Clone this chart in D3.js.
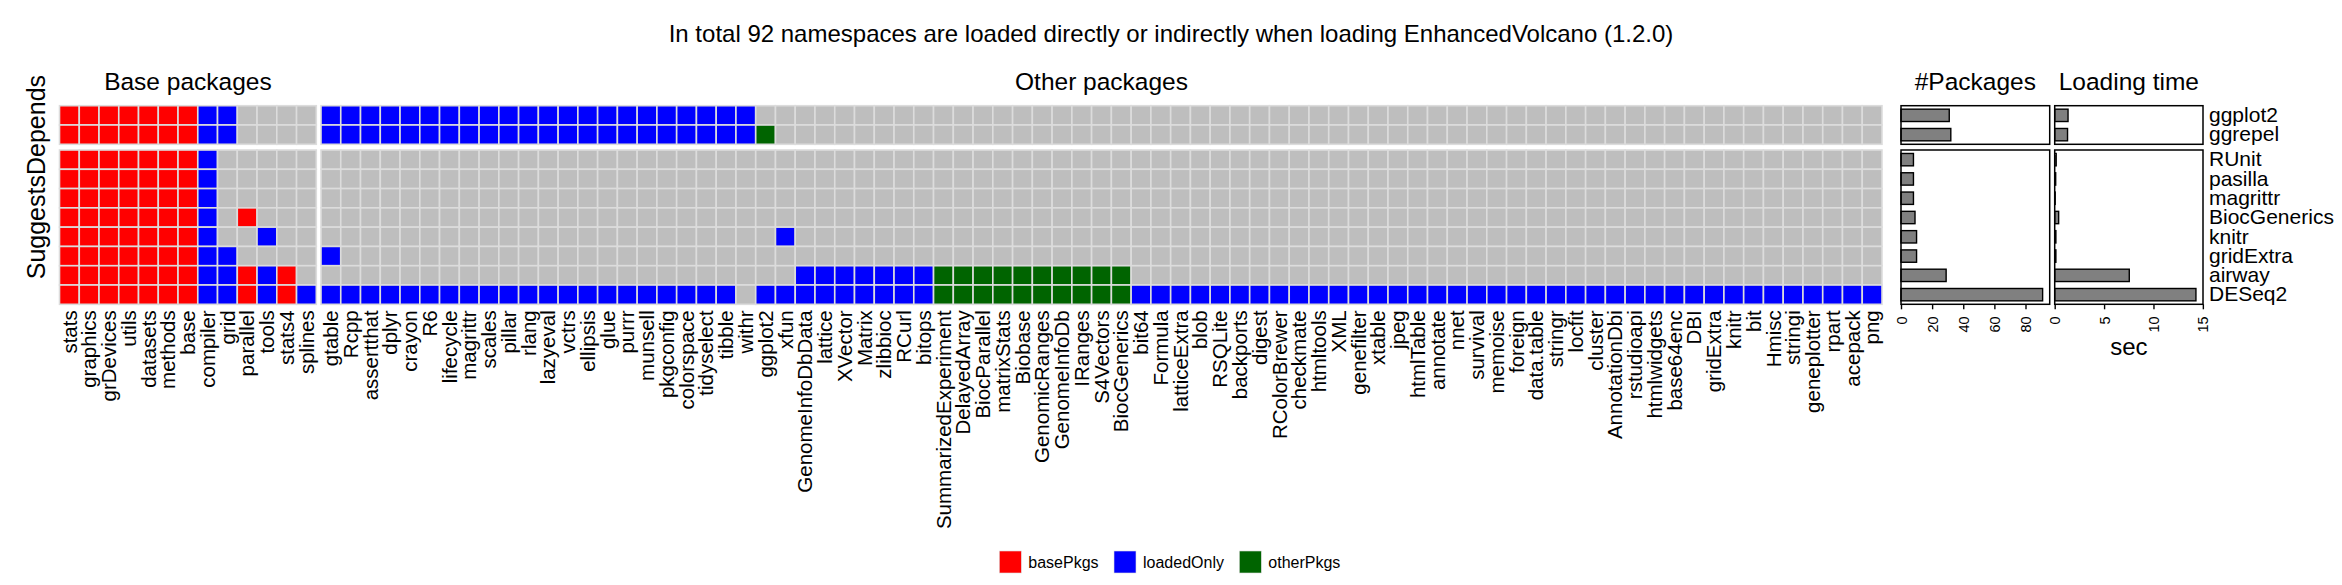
<!DOCTYPE html>
<html>
<head>
<meta charset="utf-8">
<script src="https://cdn.jsdelivr.net/npm/d3@7"></script>
<style>
  body { margin: 0; background: #fff; }
  text { font-family: "Liberation Sans", Arial, Helvetica, sans-serif; fill: #000; }
</style>
</head>
<body>
<div id="chart"></div>
<script>
// namespaces on the x axis
var basePkgs = ["stats", "graphics", "grDevices", "utils", "datasets", "methods", "base",
  "compiler", "grid", "parallel", "tools", "stats4", "splines"];
var otherPkgs = ["gtable", "Rcpp", "assertthat", "dplyr", "crayon", "R6", "lifecycle", "magrittr",
  "scales", "pillar", "rlang", "lazyeval", "vctrs", "ellipsis", "glue", "purrr", "munsell",
  "pkgconfig", "colorspace", "tidyselect", "tibble", "withr", "ggplot2", "xfun",
  "GenomeInfoDbData", "lattice", "XVector", "Matrix", "zlibbioc", "RCurl", "bitops",
  "SummarizedExperiment", "DelayedArray", "BiocParallel", "matrixStats", "Biobase",
  "GenomicRanges", "GenomeInfoDb", "IRanges", "S4Vectors", "BiocGenerics", "bit64", "Formula",
  "latticeExtra", "blob", "RSQLite", "backports", "digest", "RColorBrewer", "checkmate",
  "htmltools", "XML", "genefilter", "xtable", "jpeg", "htmlTable", "annotate", "nnet",
  "survival", "memoise", "foreign", "data.table", "stringr", "locfit", "cluster",
  "AnnotationDbi", "rstudioapi", "htmlwidgets", "base64enc", "DBI", "gridExtra", "knitr",
  "bit", "Hmisc", "stringi", "geneplotter", "rpart", "acepack", "png"];

// packages on the y axis
var dependsRows = ["ggplot2", "ggrepel"];
var suggestsRows = ["RUnit", "pasilla", "magrittr", "BiocGenerics", "knitr", "gridExtra", "airway", "DESeq2"];

// one code per namespace: b = basePkgs, l = loadedOnly, o = otherPkgs, . = not loaded
// (spaces only group the codes by ten)
var baseCodes = [
  "bbbbbbbll. ...",
  "bbbbbbbll. ...",
  "bbbbbbbl.. ...",
  "bbbbbbbl.. ...",
  "bbbbbbbl.. ...",
  "bbbbbbbl.b ...",
  "bbbbbbbl.. l..",
  "bbbbbbbll. ...",
  "bbbbbbbllb lb.",
  "bbbbbbbllb lbl"
];
var otherCodes = [
  "llllllllll llllllllll ll........ .......... .......... .......... .......... .........",
  "llllllllll llllllllll llo....... .......... .......... .......... .......... .........",
  ".......... .......... .......... .......... .......... .......... .......... .........",
  ".......... .......... .......... .......... .......... .......... .......... .........",
  ".......... .......... .......... .......... .......... .......... .......... .........",
  ".......... .......... .......... .......... .......... .......... .......... .........",
  ".......... .......... ...l...... .......... .......... .......... .......... .........",
  "l......... .......... .......... .......... .......... .......... .......... .........",
  ".......... .......... ....llllll looooooooo o......... .......... .......... .........",
  "llllllllll llllllllll l.llllllll looooooooo olllllllll llllllllll llllllllll lllllllll"
];

// right hand panels
var nPackages = [31, 32, 8, 8, 8, 9, 10, 10, 29, 91];
var loadSec = [1.35, 1.3, 0.15, 0.1, 0.05, 0.4, 0.12, 0.12, 7.55, 14.3];
var countTicks = [0, 20, 40, 60, 80];
var secTicks = [0, 5, 10, 15];

var legendKeys = ["basePkgs", "loadedOnly", "otherPkgs"];
var legendColors = ["#FF0000", "#0000FF", "#006400"];

var codeColor = { "b": "#FF0000", "l": "#0000FF", "o": "#006400", ".": "#BEBEBE" };

var width = 2342, height = 585;

var svg = d3.select("#chart")
  .append("svg")
    .attr("width", width)
    .attr("height", height);

var rows = dependsRows.concat(suggestsRows);

// scales
var xBase = d3.scaleBand().domain(basePkgs).range([59.5, 316.3]);
var xOther = d3.scaleBand().domain(otherPkgs).range([321, 1882]);
var yDep = d3.scaleBand().domain(dependsRows).range([105.7, 144.3]);
var ySug = d3.scaleBand().domain(suggestsRows).range([150, 304.3]);
var xCount = d3.scaleLinear().domain([0, d3.max(nPackages) * 1.05]).range([1901, 2049.7]);
var xSec = d3.scaleLinear().domain([0, d3.max(loadSec) * 1.05]).range([2054.7, 2203]);

function yOf(row) {
  return dependsRows.indexOf(row) >= 0 ? yDep : ySug;
}

// title
svg.append("text")
  .attr("x", 1171)
  .attr("y", 42)
  .attr("text-anchor", "middle")
  .attr("font-size", 24)
  .text("In total 92 namespaces are loaded directly or indirectly when loading EnhancedVolcano (1.2.0)");

// strip labels on top
var strips = [
  { label: "Base packages", x: (xBase.range()[0] + xBase.range()[1]) / 2 },
  { label: "Other packages", x: (xOther.range()[0] + xOther.range()[1]) / 2 },
  { label: "#Packages", x: (xCount.range()[0] + xCount.range()[1]) / 2 },
  { label: "Loading time", x: (xSec.range()[0] + xSec.range()[1]) / 2 }
];
svg.selectAll(".strip")
  .data(strips)
  .enter()
  .append("text")
    .attr("class", "strip")
    .attr("x", function(d) { return d.x; })
    .attr("y", 90)
    .attr("text-anchor", "middle")
    .attr("font-size", 24.5)
    .text(function(d) { return d.label; });

// row strips on the left
var rowStrips = [
  { label: "Depends", y: (yDep.range()[0] + yDep.range()[1]) / 2 },
  { label: "Suggests", y: (ySug.range()[0] + ySug.range()[1]) / 2 }
];
svg.selectAll(".rstrip")
  .data(rowStrips)
  .enter()
  .append("text")
    .attr("class", "rstrip")
    .attr("transform", function(d) { return "translate(45," + d.y + ") rotate(-90)"; })
    .attr("text-anchor", "middle")
    .attr("font-size", 25)
    .text(function(d) { return d.label; });

// tiles
var tiles = [];
rows.forEach(function(row, i) {
  var bc = baseCodes[i].replace(/ /g, "");
  var oc = otherCodes[i].replace(/ /g, "");
  basePkgs.forEach(function(p, j) { tiles.push({ row: row, pkg: p, x: xBase, code: bc[j] }); });
  otherPkgs.forEach(function(p, j) { tiles.push({ row: row, pkg: p, x: xOther, code: oc[j] }); });
});

svg.append("g")
  .selectAll("rect")
  .data(tiles)
  .enter()
  .append("rect")
    .attr("x", function(d) { return d.x(d.pkg); })
    .attr("y", function(d) { return yOf(d.row)(d.row); })
    .attr("width", xBase.bandwidth())
    .attr("height", yDep.bandwidth())
    .style("fill", function(d) { return codeColor[d.code] || "#BEBEBE"; })
    .attr("stroke", "#DCDCDC")
    .attr("stroke-width", 1.6);

// namespace labels under the tiles
[xBase, xOther].forEach(function(xs) {
  var ax = svg.append("g")
    .attr("transform", "translate(0,304.3)")
    .call(d3.axisBottom(xs).tickSize(0));
  ax.select(".domain").remove();
  ax.selectAll("text")
    .attr("font-size", 20.5)
    .attr("font-family", "Liberation Sans, Arial, sans-serif")
    .attr("y", 0)
    .attr("x", -6)
    .attr("dy", "0.35em")
    .attr("transform", "rotate(-90)")
    .style("text-anchor", "end");
});

// bars: #Packages and loading time
var barData = rows.map(function(row, i) {
  return { row: row, n: nPackages[i], sec: loadSec[i] };
});
var barFrac = 0.64;

[{ xs: xCount, key: "n", ticks: countTicks }, { xs: xSec, key: "sec", ticks: secTicks }].forEach(function(p) {
  var g = svg.append("g");
  g.selectAll("rect.bar")
    .data(barData)
    .enter()
    .append("rect")
      .attr("class", "bar")
      .attr("x", p.xs(0))
      .attr("y", function(d) { var y = yOf(d.row); return y(d.row) + y.bandwidth() * (1 - barFrac) / 2; })
      .attr("width", function(d) { return p.xs(d[p.key]) - p.xs(0); })
      .attr("height", yDep.bandwidth() * barFrac)
      .style("fill", "#808080")
      .attr("stroke", "#000")
      .attr("stroke-width", 1.4);

  [yDep, ySug].forEach(function(y) {
    g.append("rect")
      .attr("x", p.xs.range()[0])
      .attr("y", y.range()[0])
      .attr("width", p.xs.range()[1] - p.xs.range()[0])
      .attr("height", y.range()[1] - y.range()[0])
      .style("fill", "none")
      .attr("stroke", "#000")
      .attr("stroke-width", 1.5);
  });

  var ax = g.append("g")
    .attr("transform", "translate(0,304.3)")
    .call(d3.axisBottom(p.xs).tickValues(p.ticks).tickSize(5));
  ax.select(".domain").remove();
  ax.selectAll("line").attr("stroke", "#000").attr("stroke-width", 1.4);
  ax.selectAll("text")
    .attr("font-size", 14.5)
    .attr("font-family", "Liberation Sans, Arial, sans-serif")
    .attr("y", 0)
    .attr("x", -12)
    .attr("dy", "0.35em")
    .attr("transform", "rotate(-90)")
    .style("text-anchor", "end");
});

// row labels on the right
[yDep, ySug].forEach(function(y) {
  var ax = svg.append("g")
    .attr("transform", "translate(2203,0)")
    .call(d3.axisRight(y).tickSize(0).tickPadding(6));
  ax.select(".domain").remove();
  ax.selectAll("text")
    .attr("font-size", 21)
    .attr("font-family", "Liberation Sans, Arial, sans-serif");
});

// x title for loading time
svg.append("text")
  .attr("x", (xSec.range()[0] + xSec.range()[1]) / 2)
  .attr("y", 355)
  .attr("text-anchor", "middle")
  .attr("font-size", 24)
  .text("sec");

// legend
var legendX = [999.3, 1114, 1239.3];
var legend = svg.selectAll(".legend")
  .data(legendKeys)
  .enter()
  .append("g")
    .attr("class", "legend")
    .attr("transform", function(d, i) { return "translate(" + legendX[i] + ",551)"; });
legend.append("rect")
  .attr("width", 22)
  .attr("height", 22)
  .style("fill", function(d, i) { return legendColors[i]; })
  .attr("stroke", "#ddd")
  .attr("stroke-width", 0.6);
legend.append("text")
  .attr("x", 29)
  .attr("y", 11)
  .attr("dy", "0.35em")
  .attr("font-size", 16)
  .text(function(d) { return d; });
</script>
</body>
</html>
